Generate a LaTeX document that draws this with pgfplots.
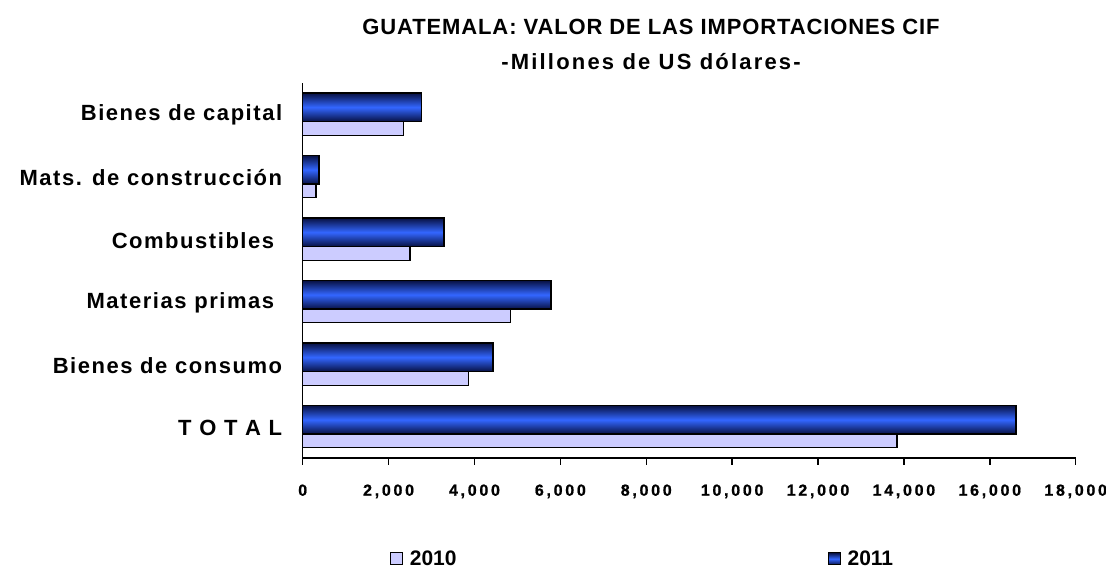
\documentclass[border=0pt]{standalone}
\usepackage{pgfplots}
\pgfplotsset{compat=1.18}
\usepackage{fontspec}
\setmainfont{Liberation Sans}
\definecolor{c2010}{RGB}{204,204,255}
\definecolor{c2011}{RGB}{51,102,255}
\definecolor{c2011d}{RGB}{8,18,70}
\begin{document}
\begin{tikzpicture}[x=1pt,y=1pt]
\path[use as bounding box] (0,0) rectangle (1106,570);
\node[font=\bfseries\fontsize{22}{22}\selectfont\addfontfeature{LetterSpace=4}] at (651,543) {GUATEMALA: VALOR DE LAS IMPORTACIONES CIF};
\node[font=\bfseries\fontsize{22}{22}\selectfont\addfontfeature{LetterSpace=10}] at (651,508.5) {-Millones de US dólares-};
\begin{axis}[
  at={(302.7pt,112pt)}, anchor=south west,
  scale only axis, width=773pt, height=375pt,
  xbar, xmin=0, xmax=18000, ymin=-0.5, ymax=5.5,
  axis x line*=bottom, axis y line*=left,
  axis line style={line width=1.5pt, black},
  xtick={0,2000,...,18000},
  ytick={0,...,5},
  yticklabels={T O T A L,Bienes de consumo,Materias primas\hspace*{8pt},Combustibles\hspace*{8pt},Mats. de construcción,Bienes de capital},
  minor ytick={-0.5,0.5,...,5.5},
  tick align=outside,
  major tick length=7pt, minor tick length=8pt,
  ytick style={draw=none},
  minor y tick style={line width=1.5pt, black},
  xtick style={line width=1.5pt, black},
  scaled x ticks=false,
  xticklabel={\bfseries\pgfmathprintnumber[assume math mode=true,1000 sep={,}]{\tick}},
  xticklabel style={font=\bfseries\fontsize{16}{16}\selectfont\addfontfeatures{LetterSpace=17,FakeBold=1}, yshift=-16pt},
  yticklabel style={font=\bfseries\fontsize{22}{22}\selectfont\addfontfeature{LetterSpace=7}, xshift=-10pt, yshift=-1pt},
  legend style={at={(0.4396,-0.269)}, anchor=center, draw=none, fill=none,
    legend columns=2, font=\bfseries\fontsize{21}{21}\selectfont,
    /tikz/every odd column/.append style={column sep=5pt},
    /tikz/every even column/.append style={column sep=369pt}},
  legend image code/.code={\draw[#1,draw=black,line width=1pt] (0pt,-6pt) rectangle (12pt,6pt);},
  clip=false,
  b11/.style={xbar, bar width=0.45, bar shift=0.112, top color=c2011d, bottom color=c2011d, middle color=c2011, draw=black, line width=1.6pt},
]
\addplot[xbar, bar width=0.45, bar shift=-0.112, fill=c2010, draw=black, line width=1.3pt]
  coordinates {(13840,0) (3857,1) (4835,2) (2499,3) (310,4) (2343,5)};
% 2011: one plot per bar so that each bar carries its own shading
\addplot[b11] coordinates {(16611,0)};
\addplot[b11, forget plot] coordinates {(4425,1)};
\addplot[b11, forget plot] coordinates {(5783,2)};
\addplot[b11, forget plot] coordinates {(3284,3)};
\addplot[b11, forget plot] coordinates {(373,4)};
\addplot[b11, forget plot] coordinates {(2762,5)};
\legend{2010,2011}
\end{axis}
\end{tikzpicture}
\end{document}
